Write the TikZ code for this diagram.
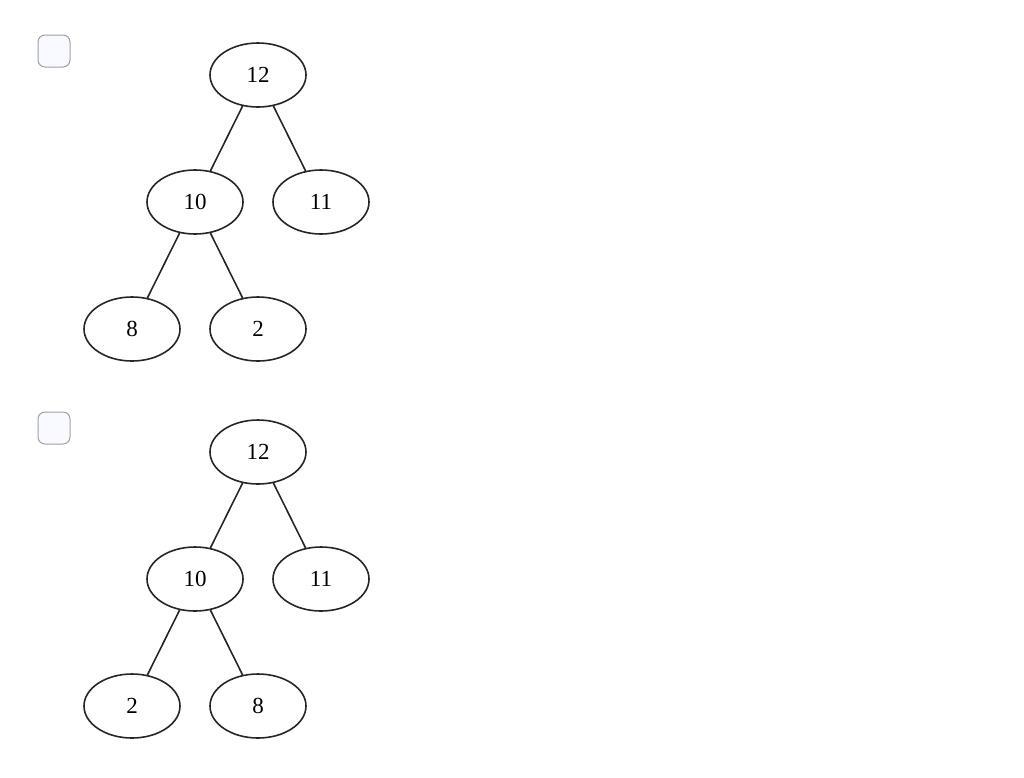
\documentclass[tikz,border=0pt]{standalone}
\usepackage{fontspec}
\setmainfont{Liberation Serif}
\usetikzlibrary{shapes.geometric}
\definecolor{boxfill}{RGB}{248,250,255}
\definecolor{boxline}{RGB}{160,160,165}

\begin{document}
\begin{tikzpicture}[x=1pt, y=-1pt, line width=1.6pt,
		key/.style={ellipse, draw=black!85, minimum width=96pt, minimum height=64pt, inner sep=0pt, font=\fontsize{23}{27}\selectfont},
		tick/.style={draw=boxline, fill=boxfill, line width=1pt, rounded corners=7pt, minimum size=32pt, inner sep=0pt},
		link/.style={draw=black!85}]
		    \useasboundingbox (0,0) rectangle (1024,777);
		    
		    \node [tick] (box1) at (54,51) {};
		    \node [tick] (box2) at (54,428) {};
		    
		    \node [key] (a12) at (258,75) {12};
		    \node [key] (a10) at (195,202) {10};
		    \node [key] (a11) at (321,202) {11};
		    \node [key] (a8) at (132,329) {8};
		    \node [key] (a2) at (258,329) {2};
		    
			\draw[link] (a12) -- (a10); \draw[link] (a12) -- (a11);
			\draw[link] (a10) -- (a8); \draw[link] (a10) -- (a2);
			
		    \node [key] (b12) at (258,452) {12};
		    \node [key] (b10) at (195,579) {10};
		    \node [key] (b11) at (321,579) {11};
		    \node [key] (b2) at (132,706) {2};
		    \node [key] (b8) at (258,706) {8};
		    
			\draw[link] (b12) -- (b10); \draw[link] (b12) -- (b11);
			\draw[link] (b10) -- (b2); \draw[link] (b10) -- (b8);
		\end{tikzpicture}
\end{document}
